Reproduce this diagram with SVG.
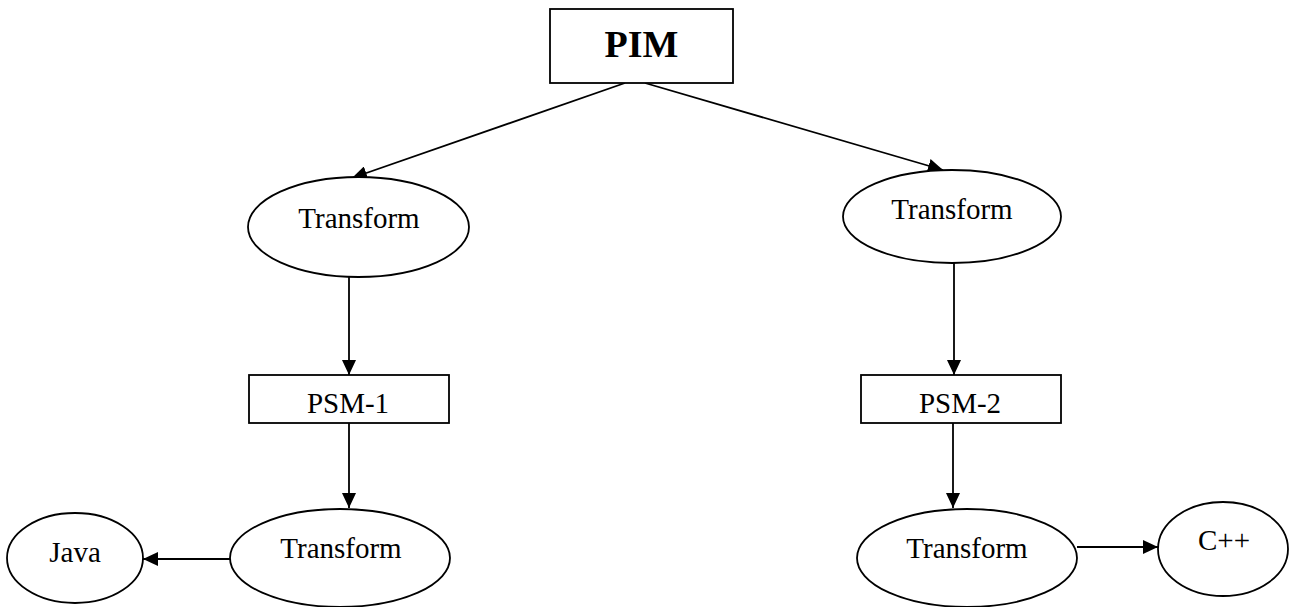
<svg xmlns="http://www.w3.org/2000/svg" width="1291" height="607" viewBox="0 0 1291 607">
<style>
.shape{fill:#fff;stroke:#000;stroke-width:1.8}
.lbl{font-family:"Liberation Serif","Times New Roman",serif;font-size:29px;fill:#000;text-anchor:middle}
.big{font-size:38px;font-weight:bold}
.edge{stroke:#000;stroke-width:1.8;fill:none;marker-end:url(#ah)}
</style>
<defs>
<marker id="ah" markerUnits="userSpaceOnUse" markerWidth="16" markerHeight="14" refX="15" refY="7" orient="auto">
<path d="M0,0 L15,7 L0,14 z" fill="#000"/>
</marker>
</defs>
<rect width="1291" height="607" fill="#fff"/>
<g id="connectors">
<line class="edge" x1="625" y1="83" x2="352" y2="178"/>
<line class="edge" x1="645" y1="83" x2="943" y2="170"/>
<line class="edge" x1="349" y1="277" x2="349" y2="375"/>
<line class="edge" x1="954" y1="263" x2="954" y2="375"/>
<line class="edge" x1="349" y1="423" x2="349" y2="508"/>
<line class="edge" x1="953" y1="423" x2="953" y2="508"/>
<line class="edge" x1="230" y1="559" x2="143" y2="559"/>
<line class="edge" x1="1077" y1="547" x2="1158" y2="547"/>
</g>
<g id="pim">
<rect class="shape" x="550" y="9" width="183" height="74"/>
<text class="lbl big" x="641.5" y="57">PIM</text>
</g>
<g id="transform-left">
<ellipse class="shape" cx="358.5" cy="227" rx="110.5" ry="50"/>
<text class="lbl" x="359" y="228">Transform</text>
</g>
<g id="transform-right">
<ellipse class="shape" cx="952" cy="216.5" rx="109" ry="46.5"/>
<text class="lbl" x="952" y="219">Transform</text>
</g>
<g id="psm1">
<rect class="shape" x="249" y="375" width="200" height="48"/>
<text class="lbl" x="348" y="413">PSM-1</text>
</g>
<g id="psm2">
<rect class="shape" x="861" y="375" width="200" height="48"/>
<text class="lbl" x="960" y="413">PSM-2</text>
</g>
<g id="transform-bottom-left">
<ellipse class="shape" cx="340" cy="558" rx="110" ry="49"/>
<text class="lbl" x="341" y="558">Transform</text>
</g>
<g id="transform-bottom-right">
<ellipse class="shape" cx="967" cy="558" rx="110" ry="49"/>
<text class="lbl" x="967" y="558">Transform</text>
</g>
<g id="java">
<ellipse class="shape" cx="75" cy="558" rx="68" ry="45"/>
<text class="lbl" x="75" y="562">Java</text>
</g>
<g id="cpp">
<ellipse class="shape" cx="1223" cy="549" rx="65" ry="47"/>
<text class="lbl" x="1224" y="550">C++</text>
</g>
</svg>
